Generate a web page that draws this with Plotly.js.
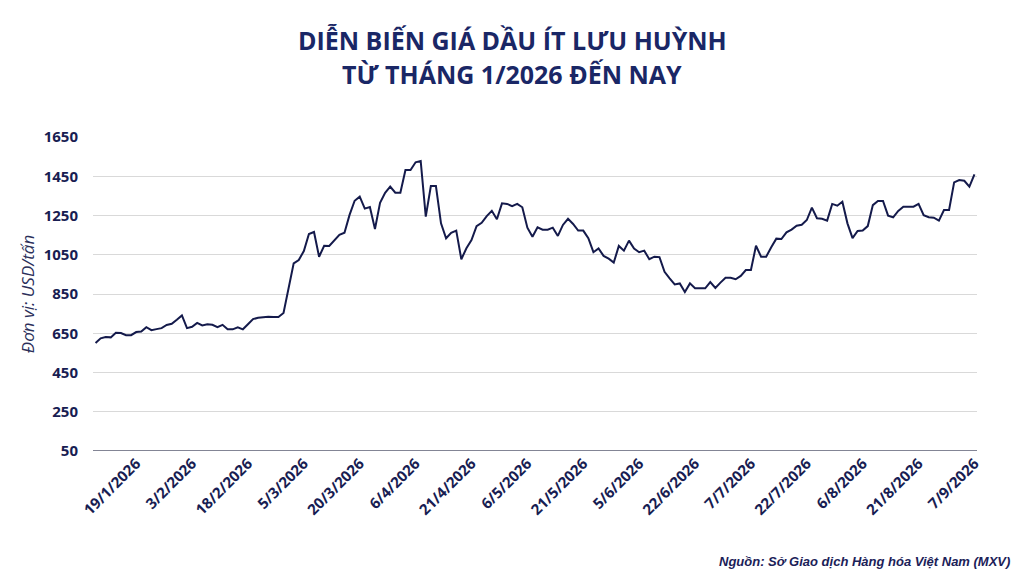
<!DOCTYPE html>
<html lang="vi">
<head>
    <meta charset="UTF-8">
    <title>Giá dầu ít lưu huỳnh</title>
    <script src="https://cdn.plot.ly/plotly-3.0.1.min.js"></script>
    <style>
        body { margin: 0; background: #fff; }
        #chart { width: 1024px; height: 577px; }
    </style>
</head>
<body>
<div id="chart"></div>

<script>
    // giá theo ngày giao dịch, USD/tấn
    const prices = [
        600, 624, 631, 629, 653, 651, 640, 640, 656, 659,
        681, 666, 671, 676, 692, 698, 719, 741, 676, 683,
        703, 690, 696, 693, 681, 693, 670, 670, 680, 670,
        696, 722, 729, 733, 734, 733, 733, 753, 887, 1006,
        1023, 1069, 1156, 1166, 1040, 1096, 1095, 1125, 1152, 1162,
        1253, 1325, 1346, 1285, 1293, 1181, 1315, 1366, 1397, 1366,
        1366, 1482, 1482, 1521, 1528, 1244, 1400, 1400, 1210, 1134,
        1162, 1173, 1027, 1083, 1125, 1196, 1213, 1247, 1274, 1231,
        1312, 1309, 1298, 1309, 1292, 1188, 1142, 1190, 1178, 1178,
        1188, 1146, 1202, 1233, 1207, 1173, 1173, 1134, 1063, 1082,
        1044, 1030, 1010, 1095, 1071, 1122, 1082, 1063, 1071, 1027,
        1040, 1038, 963, 930, 899, 904, 860, 904, 879, 879,
        879, 911, 881, 908, 933, 933, 925, 942, 972, 972,
        1096, 1040, 1040, 1088, 1132, 1130, 1164, 1178, 1198, 1203,
        1227, 1290, 1236, 1233, 1224, 1309, 1300, 1320, 1210, 1135,
        1171, 1173, 1196, 1303, 1324, 1324, 1249, 1241, 1273, 1295,
        1295, 1295, 1309, 1252, 1241, 1239, 1224, 1278, 1278, 1419,
        1431, 1427, 1397, 1460
    ]

    const tickLabels = ['19/1/2026', '3/2/2026', '18/2/2026', '5/3/2026', '20/3/2026',
        '6/4/2026', '21/4/2026', '6/5/2026', '21/5/2026', '5/6/2026', '22/6/2026',
        '7/7/2026', '22/7/2026', '6/8/2026', '21/8/2026', '7/9/2026']
    const firstTick = 8
    const tickStep = 11

    const yTicks = [50, 250, 450, 650, 850, 1050, 1250, 1450, 1650]

    const navy = '#181d52'

    const trace = {
        x: prices.map((p, i) => i),
        y: prices,
        type: 'scatter',
        mode: 'lines',
        line: {color: '#141a4b', width: 2},
        hoverinfo: 'y'
    }

    const layout = {
        width: 1024,
        height: 577,
        margin: {l: 93, r: 47, t: 137, b: 126},
        paper_bgcolor: '#fff',
        plot_bgcolor: '#fff',
        showlegend: false,
        xaxis: {
            range: [-0.5, 173.5],
            tickmode: 'array',
            tickvals: tickLabels.map((t, i) => firstTick + i * tickStep),
            ticktext: tickLabels,
            tickangle: -45,
            tickfont: {family: 'Open Sans', size: 15, color: navy, weight: 700},
            showgrid: false,
            zeroline: false,
            showline: false,
            ticks: '',
            fixedrange: true
        },
        yaxis: {
            range: [50, 1650],
            tickmode: 'array',
            tickvals: yTicks,
            tickfont: {family: 'Open Sans', size: 15, color: navy, weight: 700},
            ticklabelstandoff: 14,
            gridcolor: '#d9d9d9',
            gridwidth: 1,
            zeroline: false,
            showline: false,
            title: {
                text: 'Đơn vị: USD/tấn',
                font: {family: 'Open Sans', size: 17, color: '#2b2f5a', style: 'italic'},
                standoff: 4
            },
            fixedrange: true
        },
        shapes: [{
            type: 'line', xref: 'paper', yref: 'y',
            x0: 0, x1: 1, y0: 50, y1: 50,
            line: {color: '#5a5d72', width: 1.5}
        }],
        annotations: [
            {
                text: 'DIỄN BIẾN GIÁ DẦU ÍT LƯU HUỲNH',
                xref: 'paper', yref: 'paper', x: 0.474, y: 1.31,
                yanchor: 'middle', showarrow: false,
                font: {family: 'Open Sans', size: 25, color: '#1a2766', weight: 700}
            },
            {
                text: 'TỪ THÁNG 1/2026 ĐẾN NAY',
                xref: 'paper', yref: 'paper', x: 0.474, y: 1.2,
                yanchor: 'middle', showarrow: false,
                font: {family: 'Open Sans', size: 25, color: '#1a2766', weight: 700}
            },
            {
                text: '<b><i>Nguồn: Sở Giao dịch Hàng hóa Việt Nam (MXV)</i></b>',
                xref: 'paper', yref: 'paper', x: 1.04, y: -0.353,
                xanchor: 'right', yanchor: 'middle', showarrow: false,
                font: {family: 'Liberation Sans', size: 13, color: '#1b2158'}
            }
        ]
    }

    Plotly.newPlot('chart', [trace], layout, {displayModeBar: false, staticPlot: true})
</script>
</body>
</html>
